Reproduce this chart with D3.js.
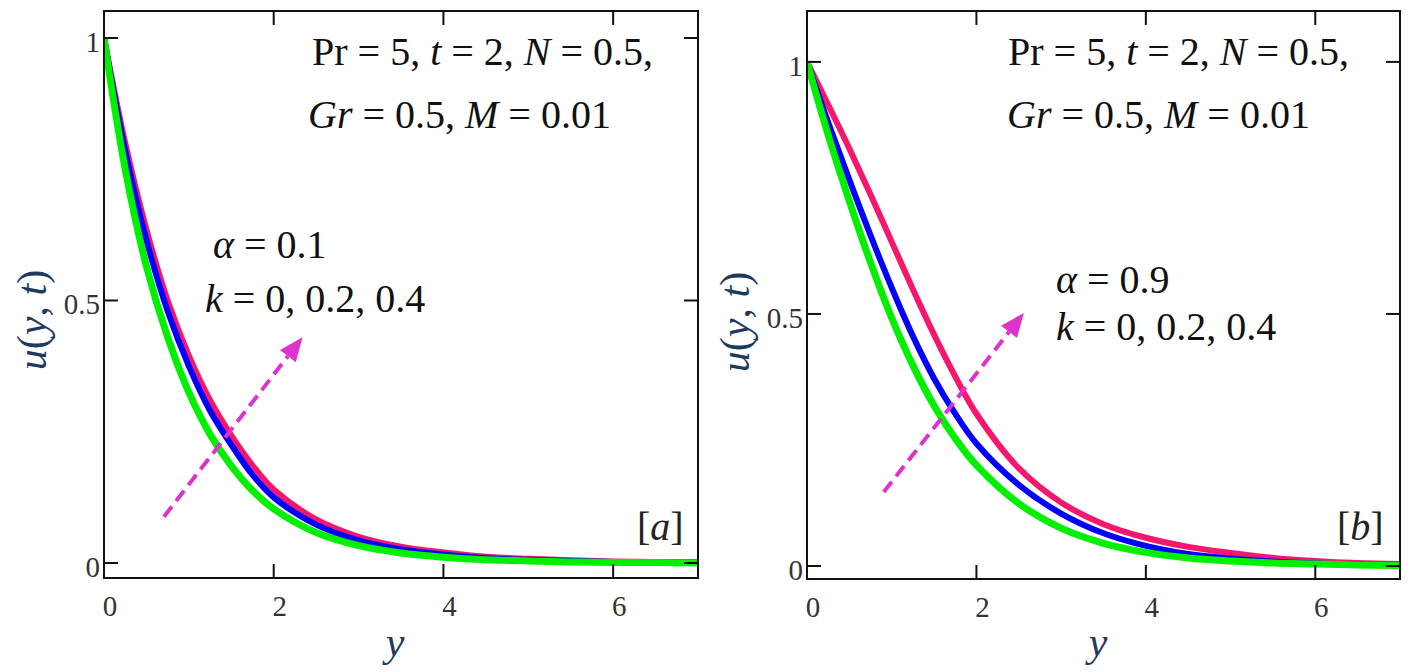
<!DOCTYPE html>
<html><head><meta charset="utf-8">
<script src="https://cdn.jsdelivr.net/npm/d3@7"></script>
<style>
body{margin:0;background:#fff}
svg{display:block}
</style>
</head><body>
<svg id="c" width="1411" height="672"></svg>
<script>
// ---- data ----
const yGrid = [0,0.25,0.5,0.75,1,1.25,1.5,1.75,2,2.5,3,3.5,4,4.5,5,5.5,6,6.5,7];
const kValues = ["0","0.2","0.4"];
// panel [a]  alpha = 0.1
const uA_k0  = [1.0,0.75,0.565,0.43,0.325,0.245,0.185,0.138,0.103,0.058,0.033,0.019,0.011,0.006,0.004,0.002,0.001,0.001,0.0];
const uA_k02 = [1.0,0.785,0.615,0.48,0.375,0.29,0.225,0.168,0.125,0.073,0.043,0.026,0.016,0.009,0.006,0.004,0.002,0.001,0.001];
const uA_k04 = [1.0,0.80,0.635,0.50,0.395,0.31,0.243,0.186,0.140,0.083,0.05,0.031,0.02,0.012,0.008,0.005,0.003,0.002,0.001];
// panel [b]  alpha = 0.9
const uB_k0  = [1.0,0.855,0.724,0.602,0.492,0.398,0.318,0.253,0.200,0.124,0.075,0.045,0.027,0.016,0.010,0.006,0.004,0.002,0.001];
const uB_k02 = [1.0,0.88,0.766,0.656,0.552,0.456,0.372,0.302,0.243,0.161,0.104,0.065,0.040,0.024,0.015,0.009,0.005,0.003,0.002];
const uB_k04 = [1.0,0.915,0.828,0.737,0.643,0.549,0.459,0.376,0.302,0.194,0.126,0.083,0.056,0.038,0.026,0.016,0.010,0.006,0.004];
const xTicks = [0,2,4,6];
const xTickLabels = ["0","2","4","6"];
const yTicks = [0,0.5,1];
const yTickLabels = ["0","0.5","1"];
const alphaValues = ["0.1","0.9"];
const panelTags = ["a","b"];

// ---- styles ----
const FONT = "'Liberation Serif', 'Times New Roman', Tinos, 'DejaVu Serif', serif";
const seriesColors = ["#00f000","#0000ff","#f5166e"]; // k=0, 0.2, 0.4
const seriesWidths = [7,6,6];

const svg = d3.select("#c").attr("font-family",FONT);

const panels = [
  {left:104,right:698,top:11,bottom:578,yDom:[-0.0286,1.0514],
   series:[uA_k0,uA_k02,uA_k04],alpha:alphaValues[0],tag:panelTags[0],
   p1:[312,65],p2:[308,128],aPos:[213,258],kPos:[205,312],
   arrow:[[0.706,0.088],[2.34,0.43]],tagPos:[637,540],ylab:[46,320],xlab:[395,656]},
  {left:807,right:1400,top:11,bottom:579,yDom:[-0.0258,1.101],
   series:[uB_k0,uB_k02,uB_k04],alpha:alphaValues[1],tag:panelTags[1],
   p1:[1008,65],p2:[1007,128],aPos:[1056,293],kPos:[1056,340],
   arrow:[[0.906,0.147],[2.56,0.502]],tagPos:[1337,540],ylab:[749,322],xlab:[1098,656]}
];

function mathText(g, x, y, parts, size, color){
  const t = g.append("text").attr("x",x).attr("y",y)
    .attr("font-family",FONT)
    .attr("font-size",size).attr("fill",color||"#111")
    .attr("xml:space","preserve");
  parts.forEach(p=>{
    t.append("tspan").attr("font-style",p[1]?"italic":"normal").text(p[0]);
  });
  return t;
}

panels.forEach((P,pi)=>{
  const g = svg.append("g");
  const x = d3.scaleLinear().domain([0,7]).range([P.left,P.right]);
  const y = d3.scaleLinear().domain(P.yDom).range([P.bottom,P.top]);
  const clipId = "clip"+pi;
  svg.append("defs").append("clipPath").attr("id",clipId)
    .append("rect").attr("x",P.left).attr("y",P.top)
    .attr("width",P.right-P.left).attr("height",P.bottom-P.top);

  // curves (draw k=0.4 first, k=0 last)
  const line = d3.line().x((d,i)=>x(yGrid[i])).y(d=>y(d)).curve(d3.curveCatmullRom.alpha(0.5));
  const cg = g.append("g").attr("clip-path",`url(#${clipId})`);
  [2,1,0].forEach(si=>{
    cg.append("path").datum(P.series[si]).attr("d",line)
      .attr("fill","none").attr("stroke",seriesColors[si])
      .attr("stroke-width",seriesWidths[si]).attr("stroke-linejoin","round");
  });

  // box
  g.append("rect").attr("x",P.left).attr("y",P.top)
    .attr("width",P.right-P.left).attr("height",P.bottom-P.top)
    .attr("fill","none").attr("stroke","#111").attr("stroke-width",2);

  // ticks (inward, all four sides)
  const TL = 14;
  xTicks.filter(v=>v>0).forEach(v=>{
    g.append("line").attr("x1",x(v)).attr("x2",x(v)).attr("y1",P.bottom).attr("y2",P.bottom-TL)
      .attr("stroke","#111").attr("stroke-width",2);
    g.append("line").attr("x1",x(v)).attr("x2",x(v)).attr("y1",P.top).attr("y2",P.top+TL)
      .attr("stroke","#111").attr("stroke-width",2);
  });
  yTicks.forEach(v=>{
    g.append("line").attr("x1",P.left).attr("x2",P.left+TL).attr("y1",y(v)).attr("y2",y(v))
      .attr("stroke","#111").attr("stroke-width",2);
    g.append("line").attr("x1",P.right).attr("x2",P.right-TL).attr("y1",y(v)).attr("y2",y(v))
      .attr("stroke","#111").attr("stroke-width",2);
  });
  // tick labels
  xTicks.forEach((v,i)=>{
    g.append("text").attr("x",x(v)+6).attr("y",P.bottom+38)
      .attr("font-family",FONT)
      .attr("text-anchor","middle").attr("font-size",29).attr("fill","#333")
      .text(xTickLabels[i]);
  });
  yTicks.forEach((v,i)=>{
    g.append("text").attr("x",P.left-4).attr("y",y(v)+14)
      .attr("font-family",FONT)
      .attr("text-anchor","end").attr("font-size",29).attr("fill","#333")
      .text(yTickLabels[i]);
  });

  // axis labels
  mathText(g,0,0,[["u",true],["(",false],["y",true],[", ",false],["t",true],[")",false]],42,"#1f3a5f")
    .attr("text-anchor","middle")
    .attr("transform",`translate(${P.ylab[0]},${P.ylab[1]}) rotate(-90)`);
  mathText(g,P.xlab[0],P.xlab[1],[["y",true]],42,"#1f3a5f").attr("text-anchor","middle");

  // parameter text
  mathText(g,P.p1[0],P.p1[1],[["Pr = 5, ",false],["t",true],[" = 2, ",false],["N",true],[" = 0.5,",false]],40);
  mathText(g,P.p2[0],P.p2[1],[["Gr",true],[" = 0.5, ",false],["M",true],[" = 0.01",false]],40);
  mathText(g,P.aPos[0],P.aPos[1],[["α",true],[" = "+P.alpha,false]],40);
  mathText(g,P.kPos[0],P.kPos[1],[["k",true],[" = "+kValues.join(", "),false]],40);
  mathText(g,P.tagPos[0],P.tagPos[1],[["[",false],[P.tag,true],["]",false]],40,"#222");

  // dashed arrow
  const ax0 = x(P.arrow[0][0]), ay0 = y(P.arrow[0][1]);
  const ax1 = x(P.arrow[1][0]), ay1 = y(P.arrow[1][1]);
  const ang = Math.atan2(ay1-ay0, ax1-ax0);
  const HL = 24, HW = 10;
  const bx = ax1 - HL*Math.cos(ang), by = ay1 - HL*Math.sin(ang);
  g.append("line").attr("x1",ax0).attr("y1",ay0).attr("x2",bx).attr("y2",by)
    .attr("stroke","#dd33cc").attr("stroke-width",4).attr("stroke-dasharray","13,7");
  const px = -Math.sin(ang), py = Math.cos(ang);
  g.append("polygon")
    .attr("points",[[ax1,ay1],[bx+HW*px,by+HW*py],[bx-HW*px,by-HW*py]].map(p=>p.join(",")).join(" "))
    .attr("fill","#dd33cc");
});
</script>
</body></html>
